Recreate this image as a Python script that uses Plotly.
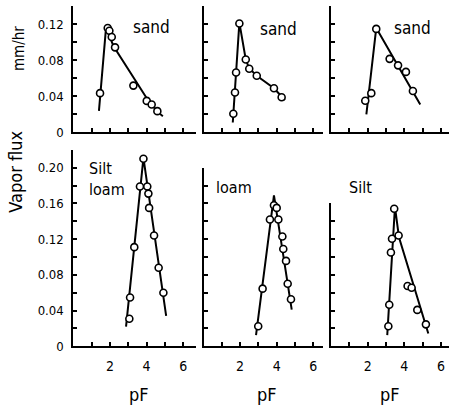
import plotly.graph_objects as go

# ---------------- data ----------------
# Panel 1: sand (top-left)
sand1_pts_x = [1.46, 1.88, 1.97, 2.10, 2.28, 3.28, 4.01, 4.28, 4.59]
sand1_pts_y = [0.0436, 0.116, 0.113, 0.106, 0.0945, 0.052, 0.035, 0.031, 0.0236]
sand1_line_x = [1.40, 1.79, 2.19, 2.92, 3.46, 4.01, 4.56, 4.89]
sand1_line_y = [0.024, 0.117, 0.096, 0.073, 0.0545, 0.038, 0.0236, 0.018]

# Panel 2: sand (top-middle)
sand2_pts_x = [1.63, 1.72, 1.78, 1.96, 2.31, 2.50, 2.91, 3.85, 4.27]
sand2_pts_y = [0.0207, 0.0443, 0.0665, 0.121, 0.081, 0.0708, 0.0629, 0.049, 0.039]
sand2_line_x = [1.60, 1.72, 1.78, 1.96, 2.31, 2.50, 2.91, 3.85, 4.45]
sand2_line_y = [0.011, 0.0443, 0.0665, 0.122, 0.081, 0.071, 0.063, 0.049, 0.036]

# Panel 3: sand (top-right)
sand3_pts_x = [1.87, 2.20, 2.47, 3.20, 3.66, 4.09, 4.47]
sand3_pts_y = [0.0352, 0.0436, 0.115, 0.0817, 0.0745, 0.0672, 0.046]
sand3_line_x = [1.93, 2.47, 4.87]
sand3_line_y = [0.020, 0.116, 0.031]

# Panel 4: silt loam (bottom-left)
siltloam_pts_x = [3.06, 3.10, 3.33, 3.64, 3.83, 4.04, 4.10, 4.14, 4.41, 4.66, 4.92]
siltloam_pts_y = [0.0308, 0.0546, 0.111, 0.179, 0.210, 0.179, 0.171, 0.155, 0.124, 0.088, 0.060]
siltloam_line_x = [2.88, 3.83, 5.07]
siltloam_line_y = [0.022, 0.211, 0.034]

# Panel 5: loam (bottom-middle)
loam_pts_x = [2.99, 3.23, 3.63, 3.85, 4.00, 4.09, 4.31, 4.36, 4.51, 4.60, 4.78]
loam_pts_y = [0.0223, 0.0645, 0.142, 0.158, 0.155, 0.142, 0.123, 0.109, 0.0956, 0.070, 0.0527]
loam_line_x = [2.87, 3.85, 4.82]
loam_line_y = [0.0125, 0.169, 0.041]

# Panel 6: silt (bottom-right)
silt_pts_x = [3.13, 3.18, 3.27, 3.33, 3.45, 3.69, 4.18, 4.40, 4.71, 5.18]
silt_pts_y = [0.0223, 0.0465, 0.105, 0.1205, 0.154, 0.124, 0.0674, 0.0656, 0.0407, 0.0245]
silt_line_x = [3.07, 3.49, 3.71, 5.31]
silt_line_y = [0.0125, 0.156, 0.122, 0.0143]

panel_labels = ["sand", "sand", "sand", "Silt<br>loam", "loam", "Silt"]
x_tick_labels = ["2", "4", "6"]
top_y_tick_labels = ["0", "0.04", "0.08", "0.12"]
bottom_y_tick_labels = ["0", "0.04", "0.08", "0.12", "0.16", "0.20"]

# ---------------- layout helpers ----------------
W, H = 450, 417
FONT = "Liberation Sans Narrow, DejaVu Sans Condensed, Roboto Condensed, Arial Narrow, Roboto, sans-serif"

def fx(px):
    return px / W

def fy(py):
    return 1 - py / H

# column pixel extents and x ranges (about 18.3 px per pF unit)
cols = [(73.3, 196.0, 6.70), (203.5, 323.0, 6.53), (331.0, 449.0, 6.44)]
top_row = [(135.0, 6.5, 0.14)] * 3
bottom_row = [(353.0, 152.8, 0.22), (353.0, 171.0, 0.20), (353.0, 207.4, 0.16)]
# label anchors in pixels (left edge, vertical middle)
label_pos = [(131, 28), (258, 30), (392, 29), (87, 183), (214, 191), (347, 191)]

panels = [
    (sand1_pts_x, sand1_pts_y, sand1_line_x, sand1_line_y),
    (sand2_pts_x, sand2_pts_y, sand2_line_x, sand2_line_y),
    (sand3_pts_x, sand3_pts_y, sand3_line_x, sand3_line_y),
    (siltloam_pts_x, siltloam_pts_y, siltloam_line_x, siltloam_line_y),
    (loam_pts_x, loam_pts_y, loam_line_x, loam_line_y),
    (silt_pts_x, silt_pts_y, silt_line_x, silt_line_y),
]

fig = go.Figure()
layout = dict(
    width=W, height=H,
    margin=dict(l=0, r=0, t=0, b=0),
    paper_bgcolor="white", plot_bgcolor="white",
    showlegend=False,
    font=dict(family=FONT, size=14, color="black"),
)
ann = []

for i, (px_, py_, lx, ly) in enumerate(panels):
    r, c = divmod(i, 3)
    n = i + 1
    xa = "x" if n == 1 else f"x{n}"
    ya = "y" if n == 1 else f"y{n}"
    x0p, x1p, xmax = cols[c]
    if r == 0:
        y0p, y1p, ymax = top_row[c]
    else:
        y0p, y1p, ymax = bottom_row[c]

    fig.add_trace(go.Scatter(x=lx, y=ly, mode="lines", xaxis=xa, yaxis=ya,
                             line=dict(color="black", width=2), hoverinfo="skip"))
    fig.add_trace(go.Scatter(x=px_, y=py_, mode="markers", xaxis=xa, yaxis=ya,
                             marker=dict(symbol="circle", size=7, color="white",
                                         line=dict(color="black", width=1.6)),
                             hoverinfo="skip"))

    xticks = list(range(0, int(xmax) + 1))
    xtext = [str(t) if (r == 1 and str(t) in x_tick_labels) else "" for t in xticks]
    nyt = int(round(ymax / 0.02))
    yticks = [round(k * 0.02, 2) for k in range(0, nyt + 1)]
    labels = top_y_tick_labels if r == 0 else bottom_y_tick_labels
    ytext = []
    for t in yticks:
        s = "0" if t == 0 else f"{t:.2f}"
        ytext.append(s if (c == 0 and s in labels) else "")

    layout["xaxis" if n == 1 else f"xaxis{n}"] = dict(
        domain=[fx(x0p), fx(x1p)], range=[0, xmax], anchor=ya,
        showline=True, linecolor="black", linewidth=2, mirror=False,
        showgrid=False, zeroline=False,
        ticks="inside", ticklen=4, tickwidth=1.5, tickcolor="black",
        tickvals=xticks, ticktext=xtext, ticklabelstandoff=6,
        ticklabeloverflow="allow",
        tickfont=dict(family=FONT, size=14, color="black"),
        fixedrange=True,
    )
    layout["yaxis" if n == 1 else f"yaxis{n}"] = dict(
        domain=[fy(y0p), fy(y1p)], range=[0, ymax], anchor=xa,
        showline=True, linecolor="black", linewidth=2, mirror=False,
        showgrid=False, zeroline=False,
        ticks="inside", ticklen=4, tickwidth=1.5, tickcolor="black",
        tickvals=yticks, ticktext=ytext, ticklabelstandoff=5,
        ticklabeloverflow="allow",
        tickfont=dict(family=FONT, size=13, color="black"),
        fixedrange=True,
    )

    lpx, lpy = label_pos[i]
    ann.append(dict(x=fx(lpx), y=fy(lpy), xref="paper", yref="paper",
                    text=panel_labels[i], xanchor="left", yanchor="middle", align="left",
                    font=dict(size=17 if r == 0 else 16)))

fig.update_layout(**layout)

for cx in (139, 267, 390):
    ann.append(dict(x=fx(cx), y=fy(402), xref="paper", yref="paper", text="pF",
                    xanchor="center", yanchor="middle", font=dict(size=18)))
ann.append(dict(x=fx(16), y=fy(175), xref="paper", yref="paper", text="Vapor flux", textangle=-90,
                xanchor="center", yanchor="middle", font=dict(size=18)))
ann.append(dict(x=fx(19), y=fy(50), xref="paper", yref="paper", text="mm/hr", textangle=-90,
                xanchor="center", yanchor="middle", font=dict(size=15)))

for a in ann:
    a.update(showarrow=False)
    a["font"] = dict(family=FONT, color="black", size=a["font"]["size"])
fig.update_layout(annotations=ann)

# remove the browser's default 8px body margin so the figure fills the window exactly
fig.write_html(
    "out.html",
    config={"displayModeBar": False},
    post_script="document.body.style.margin='0px';document.body.style.overflow='hidden';",
)
